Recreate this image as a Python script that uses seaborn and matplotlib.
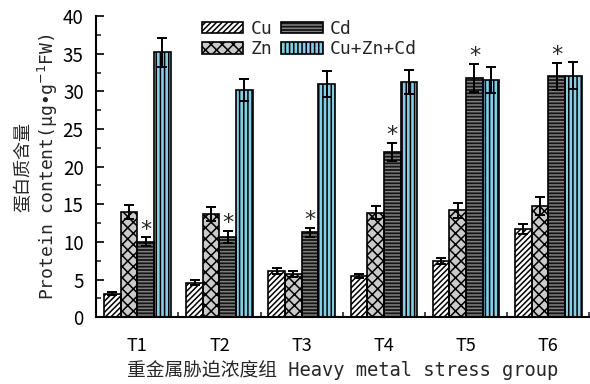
import numpy as np
import pandas as pd
import seaborn as sns
import matplotlib.pyplot as plt
from matplotlib.patches import Patch, Rectangle
from matplotlib.legend_handler import HandlerTuple
from matplotlib.ticker import MultipleLocator

# Protein content by heavy-metal treatment (mean, error)
groups = ["T1", "T2", "T3", "T4", "T5", "T6"]
metals = ["Cu", "Zn", "Cd", "Cu+Zn+Cd"]

cu = [3.1, 4.6, 6.2, 5.5, 7.5, 11.7]
cu_err = [0.2, 0.3, 0.4, 0.3, 0.4, 0.7]
zn = [14.0, 13.7, 5.7, 13.9, 14.2, 14.8]
zn_err = [0.9, 0.9, 0.4, 0.9, 1.0, 1.2]
cd = [10.0, 10.7, 11.3, 22.0, 31.8, 32.0]
cd_err = [0.6, 0.8, 0.6, 1.2, 1.9, 1.8]
mix = [35.2, 30.2, 31.0, 31.3, 31.5, 32.1]
mix_err = [1.9, 1.5, 1.7, 1.6, 1.7, 1.8]

# groups whose Cd bar carries a significance mark
cd_significant = [True, True, True, True, True, True]

values = {"Cu": cu, "Zn": zn, "Cd": cd, "Cu+Zn+Cd": mix}
errors = {"Cu": cu_err, "Zn": zn_err, "Cd": cd_err, "Cu+Zn+Cd": mix_err}

df = pd.DataFrame(
    [(g, m, values[m][i]) for m in metals for i, g in enumerate(groups)],
    columns=["group", "metal", "value"],
)

sns.set_theme(style="ticks")
plt.rcParams["font.family"] = ["Noto Sans CJK SC", "DejaVu Sans"]
plt.rcParams["axes.unicode_minus"] = False
plt.rcParams["hatch.linewidth"] = 1.1

fig, ax = plt.subplots(figsize=(5.9, 3.84), dpi=100)
fig.subplots_adjust(left=0.163, right=0.999, bottom=0.174, top=0.958)

sns.barplot(
    data=df, x="group", y="value", hue="metal",
    order=groups, hue_order=metals, errorbar=None,
    width=0.81, gap=0, saturation=1, legend=False, ax=ax,
)

styles = {
    "Cu": dict(face="white", hatch="//////", hcolor="black"),
    "Zn": dict(face="#cacaca", hatch="xxx", hcolor="black"),
    "Cd": dict(face="#141414", hatch="-----", hcolor="#808080"),
    "Cu+Zn+Cd": dict(face="#86cde6", hatch="||||", hcolor="black"),
}

edge_lw = 1.2
for metal, cont in zip(metals, ax.containers):
    st = styles[metal]
    xs = []
    for bar in cont:
        bar.set_facecolor(st["face"])
        bar.set_edgecolor(st["hcolor"])
        bar.set_hatch(st["hatch"])
        bar.set_linewidth(0)
        ax.add_patch(Rectangle(bar.get_xy(), bar.get_width(), bar.get_height(),
                               fill=False, edgecolor="black", linewidth=edge_lw,
                               zorder=bar.get_zorder() + 0.1))
        xs.append(bar.get_x() + bar.get_width() / 2)
    ax.errorbar(xs, values[metal], yerr=errors[metal], fmt="none",
                ecolor="black", elinewidth=1.4, capsize=3.3, capthick=1.4,
                zorder=5)
    if metal == "Cd":
        for x, v, e, sig in zip(xs, cd, cd_err, cd_significant):
            if sig:
                ax.annotate("*", (x, v + e), xytext=(0, 5.5),
                            textcoords="offset points", ha="center",
                            va="center", fontsize=16, family="DejaVu Sans",
                            zorder=6)

# axes
ax.set_ylim(0, 40)
ax.set_xlim(-0.5, 5.5)
ax.yaxis.set_major_locator(MultipleLocator(5))
ax.yaxis.set_minor_locator(MultipleLocator(2.5))
ax.set_xticks(range(len(groups)), groups)
ax.set_xticks(np.arange(0.5, len(groups), 1.0), minor=True)
ax.tick_params(axis="y", which="major", direction="in", length=6, width=1.2,
               labelsize=13.5, pad=9, colors="black")
ax.tick_params(axis="y", which="minor", direction="in", length=3.5, width=1.2)
ax.tick_params(axis="x", which="major", length=0, pad=14, labelsize=13,
               colors="black")
ax.tick_params(axis="x", which="minor", direction="in", length=3.5, width=1.2)
for s in ("top", "right"):
    ax.spines[s].set_visible(False)
for s in ("left", "bottom"):
    ax.spines[s].set_linewidth(1.5)
    ax.spines[s].set_color("black")

ax.set_ylabel("蛋白质含量\nProtein content(μg•g$^{-1}$FW)", fontsize=13,
              labelpad=2, family=["DejaVu Sans Mono", "Noto Sans CJK SC"])
ax.set_xlabel("重金属胁迫浓度组 Heavy metal stress group", fontsize=13.5,
              labelpad=4, family=["DejaVu Sans Mono", "Noto Sans CJK SC"])

# legend with hatched swatches
handles = []
for metal in metals:
    st = styles[metal]
    fill = Patch(facecolor=st["face"], edgecolor=st["hcolor"], hatch=st["hatch"],
                 linewidth=0)
    outline = Patch(facecolor="none", edgecolor="black", linewidth=edge_lw)
    handles.append((fill, outline))
ax.legend(handles, metals, handler_map={tuple: HandlerTuple(ndivide=1, pad=0)},
          ncol=2, loc="upper left", bbox_to_anchor=(0.342, 0.948),
          bbox_transform=fig.transFigure, frameon=False,
          handlelength=2.3, handleheight=0.6, handletextpad=0.4,
          columnspacing=0.5, labelspacing=0.12, borderpad=0, borderaxespad=0,
          prop={"family": ["DejaVu Sans Mono", "Noto Sans CJK SC"], "size": 13})

fig.savefig("out.png", dpi=100)
